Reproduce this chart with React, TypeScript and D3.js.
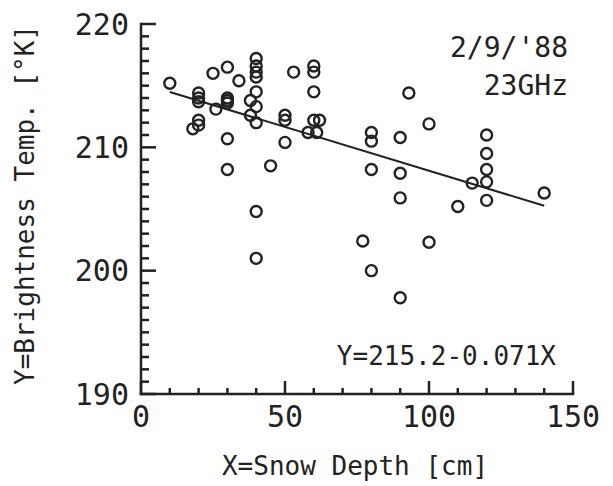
import React, { useRef, useEffect } from 'react';
import * as d3 from 'd3';

// snow depth [cm] and brightness temp [K]
const snowDepth = [
  10, 20, 20, 20, 20, 20, 18, 25, 30, 34, 26, 30, 30, 30, 30, 30,
  40, 40, 40, 40, 40, 38, 40, 38, 40, 40, 40, 45, 50, 50, 50, 53,
  60, 60, 60, 60, 62, 58, 61, 93, 100, 80, 80, 90, 80, 90, 90, 110,
  77, 100, 80, 90, 120, 120, 120, 120, 115, 120, 140,
];
const brightTemp = [
  215.2, 214.4, 214.0, 213.7, 212.2, 211.8, 211.5, 216.0, 216.5, 215.4, 213.1, 214.0, 213.8, 213.6, 210.7, 208.2,
  217.2, 216.6, 216.1, 215.7, 214.5, 213.8, 213.3, 212.6, 212.0, 204.8, 201.0, 208.5, 212.6, 212.2, 210.4, 216.1,
  216.6, 216.1, 214.5, 212.2, 212.2, 211.2, 211.2, 214.4, 211.9, 211.2, 210.5, 210.8, 208.2, 207.9, 205.9, 205.2,
  202.4, 202.3, 200.0, 197.8, 211.0, 209.5, 208.2, 207.2, 207.1, 205.7, 206.3,
];

// regression Y = a + bX
const fitA = 215.2;
const fitB = -0.071;
const fitRange = [10, 140];

const xMajor = [0, 50, 100, 150];
const yMajor = [190, 200, 210, 220];

const FONT = '"DejaVu Sans Mono", monospace';
const INK = '#222';

function App() {
  const svgRef = useRef<SVGSVGElement>(null);

  useEffect(() => {
    const svg = d3.select(svgRef.current);
    svg.selectAll('*').remove();

    const x = d3.scaleLinear().domain([0, 150]).range([141, 573]);
    const y = d3.scaleLinear().domain([190, 220]).range([394, 24]);
    const x0 = x(0);
    const y0 = y(190);

    // axis lines
    svg.append('rect')
      .attr('x', x0 - 1.25).attr('y', y(220) - 1.25)
      .attr('width', 2.5).attr('height', y0 - y(220) + 2.5)
      .attr('fill', INK);
    svg.append('rect')
      .attr('x', x0 - 1.25).attr('y', y0 - 1.25)
      .attr('width', x(150) - x0 + 2.5).attr('height', 2.5)
      .attr('fill', INK);

    // Y ticks every 1 unit, longer every 10, pointing inward
    svg.selectAll('.ytick')
      .data(d3.range(190, 221, 1))
      .join('rect')
      .attr('class', 'ytick')
      .attr('x', x0)
      .attr('y', (d) => y(d) - 1.25)
      .attr('width', (d) => (d % 10 === 0 ? 15 : 8))
      .attr('height', 2.5)
      .attr('fill', INK);

    // X ticks every 10, longer every 50
    svg.selectAll('.xtick')
      .data(d3.range(0, 151, 10))
      .join('rect')
      .attr('class', 'xtick')
      .attr('x', (d) => x(d) - 1.25)
      .attr('y', (d) => y0 - (d % 50 === 0 ? 13 : 6))
      .attr('width', 2.5)
      .attr('height', (d) => (d % 50 === 0 ? 13 : 6))
      .attr('fill', INK);

    // tick labels
    svg.selectAll('.ylab')
      .data(yMajor)
      .join('text')
      .attr('class', 'ylab')
      .attr('x', x0 - 12)
      .attr('y', (d) => y(d))
      .attr('dy', '0.35em')
      .attr('text-anchor', 'end')
      .attr('font-family', FONT).attr('font-size', 30).attr('fill', INK)
      .text((d) => d);

    svg.selectAll('.xlab')
      .data(xMajor)
      .join('text')
      .attr('class', 'xlab')
      .attr('x', (d) => x(d))
      .attr('y', y0 + 12)
      .attr('dy', '0.71em')
      .attr('text-anchor', 'middle')
      .attr('font-family', FONT).attr('font-size', 30).attr('fill', INK)
      .text((d) => d);

    // regression line
    const line = d3.line<number>().x((d) => x(d)).y((d) => y(fitA + fitB * d));
    svg.append('path')
      .attr('d', line(fitRange))
      .attr('fill', 'none')
      .attr('stroke', INK)
      .attr('stroke-width', 2);

    // points
    svg.selectAll('.pt')
      .data(snowDepth)
      .join('circle')
      .attr('class', 'pt')
      .attr('cx', (d) => x(d))
      .attr('cy', (d, i) => y(brightTemp[i]))
      .attr('r', 5.5)
      .attr('fill', 'none')
      .attr('stroke', INK)
      .attr('stroke-width', 2.4);

    // labels
    svg.append('text')
      .attr('x', 355).attr('y', 475)
      .attr('text-anchor', 'middle')
      .attr('font-family', FONT).attr('font-size', 26).attr('fill', INK)
      .text('X=Snow Depth [cm]');

    svg.append('text')
      .attr('transform', 'translate(34,205) rotate(-90)')
      .attr('text-anchor', 'middle')
      .attr('font-family', FONT).attr('font-size', 26).attr('fill', INK)
      .text('Y=Brightness Temp. [°K]');

    svg.append('text')
      .attr('x', 568).attr('y', 57)
      .attr('text-anchor', 'end')
      .attr('font-family', FONT).attr('font-size', 28).attr('fill', INK)
      .text("2/9/'88");

    svg.append('text')
      .attr('x', 568).attr('y', 95)
      .attr('text-anchor', 'end')
      .attr('font-family', FONT).attr('font-size', 28).attr('fill', INK)
      .text('23GHz');

    svg.append('text')
      .attr('x', 556).attr('y', 365)
      .attr('text-anchor', 'end')
      .attr('font-family', FONT).attr('font-size', 26).attr('fill', INK)
      .text(`Y=${fitA}-${Math.abs(fitB).toFixed(3)}X`);
  }, []);

  return (
    <svg
      ref={svgRef}
      width={613}
      height={486}
      style={{ position: 'absolute', left: 0, top: 0, background: '#fff' }}
    />
  );
}

export default App;
